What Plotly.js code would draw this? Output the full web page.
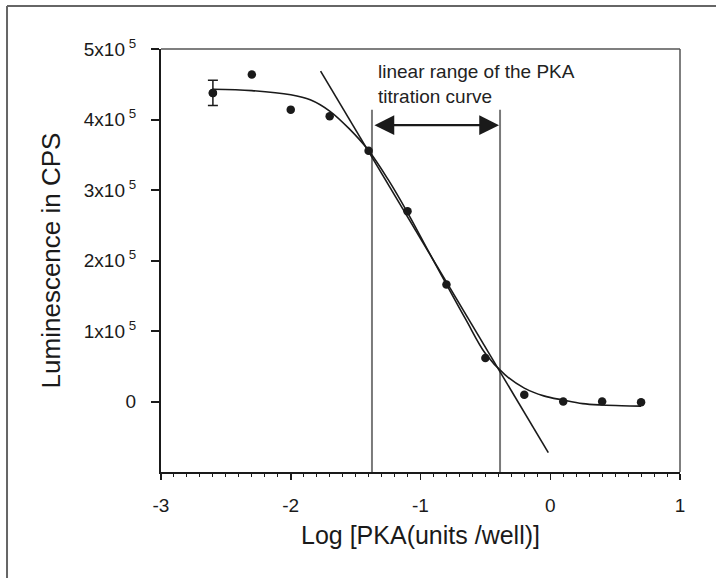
<!DOCTYPE html>
<html>
<head>
<meta charset="utf-8">
<script src="https://cdn.plot.ly/plotly-3.0.1.min.js"></script>
<style>html,body{margin:0;padding:0;background:#fff;}#chart{width:716px;height:578px;}</style>
</head>
<body>
<div id="chart"></div>
<script>
// Measured data points
const logPKA = [-2.6, -2.3, -2.0, -1.7, -1.4, -1.1, -0.8, -0.5, -0.2, 0.1, 0.4, 0.7];
const cps = [437700, 463700, 414000, 404500, 355600, 270000, 166000, 61700, 9500, 0, 0, -1000];
// Error bar (only first point shows one)
const errorBarSD = [18000];

// Fitted sigmoid curve
const fitX = [-2.6, -2.3, -2.0, -1.85, -1.7, -1.55, -1.4, -1.25, -1.1, -0.95, -0.8, -0.65, -0.5, -0.35, -0.2, -0.05, 0.1, 0.25, 0.4, 0.55, 0.7];
const fitY = [443000, 441000, 435000, 428000, 412000, 387000, 356000, 315000, 268000, 217000, 166000, 116000, 68000, 38000, 19000, 8000, 2000, -3000, -5000, -6000, -6500];

// Straight line through the linear part
const linX = [-1.77, -0.015];
const linY = [468500, -72500];

// Limits of the linear range
const rangeX = [-1.374, -0.387];
const rangeTop = 414000;
const rangeBottom = -100000;
const arrowY = 392000;

// Tick labels
const xTickVals = [-3, -2, -1, 0, 1];
const xTickText = ['-3', '-2', '-1', '0', '1'];
const yTickVals = [0, 100000, 200000, 300000, 400000, 500000];
const yTickText = ['0', '1x10\u2009<sup>5</sup>', '2x10\u2009<sup>5</sup>', '3x10\u2009<sup>5</sup>', '4x10\u2009<sup>5</sup>', '5x10\u2009<sup>5</sup>'];

const FONT = '"Liberation Sans", Arial, Helvetica, sans-serif';
const INK = '#1a1a1a';

const traces = [];
// vertical range lines
rangeX.forEach(function (xv) {
  traces.push({
    x: [xv, xv], y: [rangeTop, rangeBottom], mode: 'lines',
    line: {color: '#7a7a7a', width: 2}, hoverinfo: 'skip', showlegend: false
  });
});
// tangent line
traces.push({x: linX, y: linY, mode: 'lines', line: {color: INK, width: 1.6}, showlegend: false});
// fitted curve
traces.push({x: fitX, y: fitY, mode: 'lines', line: {color: INK, width: 1.6, shape: 'spline', smoothing: 1}, showlegend: false});
// data points
traces.push({x: logPKA, y: cps, mode: 'markers', marker: {color: INK, size: 8.5}, showlegend: false});
// error bar point
traces.push({
  x: [logPKA[0]], y: [cps[0]], mode: 'markers', marker: {color: INK, size: 8.5},
  error_y: {type: 'data', array: errorBarSD, visible: true, color: INK, thickness: 1.5, width: 5},
  showlegend: false
});

const layout = {
  width: 716, height: 578,
  margin: {l: 161, r: 36, t: 49, b: 106},
  paper_bgcolor: '#fff', plot_bgcolor: '#fff',
  font: {family: FONT, color: INK},
  showlegend: false,
  xaxis: {
    range: [-3, 1], tickvals: xTickVals, ticktext: xTickText,
    showgrid: false, zeroline: false, showline: true, linecolor: INK, linewidth: 2,
    ticks: 'outside', ticklen: 6, tickwidth: 1.5, tickcolor: INK,
    ticklabelstandoff: 9,
    minor: {dtick: 0.1, ticks: 'outside', ticklen: 3, tickwidth: 1, tickcolor: INK},
    tickfont: {size: 19, family: FONT, color: INK},
    title: {text: 'Log [PKA(units /well)]', font: {size: 25, family: FONT, color: INK}, standoff: 12},
    automargin: false
  },
  yaxis: {
    range: [-100000, 500000], tickvals: yTickVals, ticktext: yTickText,
    showgrid: false, zeroline: false, showline: true, linecolor: INK, linewidth: 2,
    ticks: 'outside', ticklen: 8, tickwidth: 2, tickcolor: INK,
    ticklabelstandoff: 11,
    tickfont: {size: 19, family: FONT, color: INK},
    title: {text: 'Luminescence in CPS', font: {size: 26, family: FONT, color: INK}, standoff: 16},
    automargin: false
  },
  shapes: [
    // top and right borders of plot box
    {type: 'line', xref: 'paper', yref: 'paper', x0: 0, x1: 1, y0: 1, y1: 1, line: {color: '#555', width: 1.5}},
    {type: 'line', xref: 'paper', yref: 'paper', x0: 1, x1: 1, y0: 0, y1: 1, line: {color: '#555', width: 1.5}},
    // outer figure frame (top & left)
    {type: 'line', xref: 'paper', yref: 'paper', x0: -0.2967, x1: 1.08, y0: 1.1017, y1: 1.1017, line: {color: '#666', width: 2}},
    {type: 'line', xref: 'paper', yref: 'paper', x0: -0.2967, x1: -0.2967, y0: 1.1017, y1: -0.26, line: {color: '#666', width: 2}}
  ],
  annotations: [
    {
      x: rangeX[1], y: arrowY, ax: rangeX[0], ay: arrowY, xref: 'x', yref: 'y', axref: 'x', ayref: 'y',
      text: '', showarrow: true, arrowhead: 2, startarrowhead: 2, arrowside: 'end+start',
      arrowsize: 1.8, startarrowsize: 1.8, arrowwidth: 2.2, arrowcolor: INK, standoff: 1, startstandoff: 1
    },
    {
      x: -1.345, y: 450500, xref: 'x', yref: 'y', xanchor: 'left', yanchor: 'middle', align: 'left',
      text: 'linear range of the PKA<br>titration curve', showarrow: false,
      font: {size: 19, family: FONT, color: '#222'}
    }
  ]
};

Plotly.newPlot('chart', traces, layout, {displayModeBar: false, staticPlot: true});
</script>
</body>
</html>
